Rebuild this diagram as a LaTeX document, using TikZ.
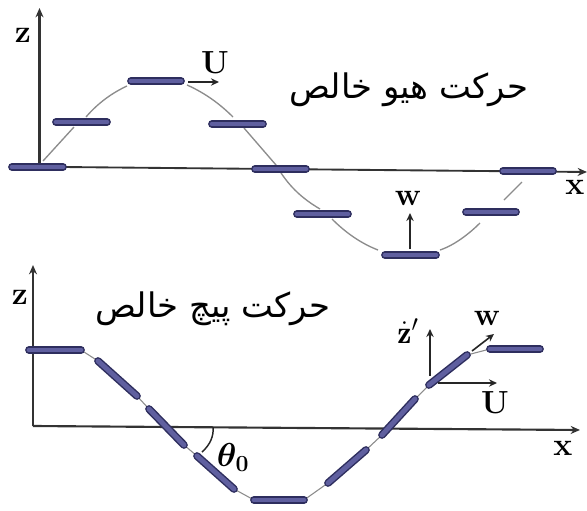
\documentclass[tikz,border=0pt]{standalone}
\usepackage{amsmath}
\usepackage{fontspec}
\newfontfamily\arabicfont[Script=Arabic]{DejaVu Sans}
\TeXXeTstate=1
\definecolor{plateedge}{HTML}{2E2E5E}
\definecolor{platefill}{HTML}{5F5F9F}
\definecolor{wavegray}{HTML}{8C8C8C}
\definecolor{axisgray}{HTML}{333333}
\usetikzlibrary{arrows.meta}
\tikzset{
  plate/.style={draw=plateedge,line width=1.1pt,double=platefill,double distance=3.6pt,line cap=round},
  wave/.style={draw=wavegray,line width=1pt},
  axisline/.style={draw=axisgray,line width=1.6pt,-{Stealth[length=7pt,width=6pt]}},
  vec/.style={draw=black!85,line width=1.2pt,-{Stealth[length=6pt,width=5.5pt]}},
  lab/.style={inner sep=0pt,font=\bfseries\fontsize{24}{24}\selectfont},
  title/.style={inner sep=0pt,font=\arabicfont\fontsize{25.4}{28}\selectfont}
}
\begin{document}
\begin{tikzpicture}[x=0.75pt,y=-0.75pt]
\useasboundingbox[fill=white] (0,0) rectangle (587,511);
% top wave
\coordinate (aL) at (12,167); \coordinate (aR) at (63,167);
\coordinate (bL) at (56,122); \coordinate (bR) at (107,122);
\coordinate (cL) at (131,81); \coordinate (cR) at (181,81);
\coordinate (dL) at (212,124); \coordinate (dR) at (263,124);
\coordinate (eL) at (255,169); \coordinate (eR) at (306,169);
\coordinate (fL) at (297,214); \coordinate (fR) at (348,214);
\coordinate (gL) at (385,255); \coordinate (gR) at (436,255);
\coordinate (hL) at (466,212); \coordinate (hR) at (516,212);
\coordinate (iL) at (503,171); \coordinate (iR) at (553,171);
\draw[wave] (43,161) -- (74,127);
\draw[wave] (86,117) .. controls (98,103) and (112,93) .. (127,86);
\draw[wave] (187,85) .. controls (205,93) and (220,104) .. (233,117);
\draw[wave] (244,128) -- (276,165);
\draw[wave] (276,165) .. controls (285,180) and (296,195) .. (320,209);
\draw[wave] (332,219) .. controls (345,232) and (360,243) .. (378,250);
\draw[wave] (440,250) .. controls (455,245) and (470,233) .. (480,223);
\draw[wave] (504,200) -- (522,182);
\coordinate (ztopA) at (39.5,8); \coordinate (zbotA) at (39.5,163);
\coordinate (xtipA) at (587,172);
\draw[axisline] (zbotA) -- (ztopA);
\draw[axisline,line width=1.4pt] (aR) -- (xtipA);
\foreach \a in {a,b,c,d,e,f,g,h,i} \draw[plate] (\a L) -- (\a R);
\coordinate (uA1) at (188,82); \coordinate (uA2) at (219,82);
\draw[vec] (uA1) -- (uA2);
\coordinate (wA1) at (410,249); \coordinate (wA2) at (410,213);
\draw[vec,line width=1.6pt] (wA1) -- (wA2);
\node[lab] (zA) at (23,35) {z};
\node[lab] (UA) at (215,63) {U};
\node[lab] (xA) at (575,187) {x};
\node[lab] (wA) at (408,198) {w};
\node[title] (titleA) at (409,90) {\beginR حرکت هیو خالص\endR};
% bottom wave
\coordinate (jL) at (29,350); \coordinate (jR) at (81,350);
\coordinate (kL) at (98,361); \coordinate (kR) at (137,396);
\coordinate (lL) at (149,409); \coordinate (lR) at (184,445);
\coordinate (mL) at (197,456); \coordinate (mR) at (234,489);
\coordinate (nL) at (254,500); \coordinate (nR) at (304,500);
\coordinate (oL) at (328,483); \coordinate (oR) at (366,450);
\coordinate (pL) at (382,435); \coordinate (pR) at (415,399);
\coordinate (qL) at (429,385); \coordinate (qR) at (467,355);
\coordinate (rL) at (490,349); \coordinate (rR) at (540,349);
\foreach \a/\b in {jR/kL,kR/lL,lR/mL,mR/nL,nR/oL,oR/pL,pR/qL,qR/rL}
  \draw[wave,line width=0.8pt] (\a) -- (\b);
\coordinate (zO) at (33,426); \coordinate (ztopB) at (33,265);
\coordinate (xtipB) at (580,430);
\draw[axisline] (zO) -- (ztopB);
\draw[axisline] (zO) -- (xtipB);
\foreach \a in {j,k,l,m,n,o,p,q,r} \draw[plate] (\a L) -- (\a R);
\coordinate (t1) at (213,427); \coordinate (t2) at (202,452);
\draw[draw=black!85,line width=1.1pt] (t1) .. controls (214,436) and (210,445) .. (t2);
\node[lab,font=\fontsize{24}{24}\selectfont] (thetaB) at (233,457) {$\boldsymbol{\theta_0}$};
\coordinate (zp1) at (430,376); \coordinate (zp2) at (430,329);
\draw[vec] (zp1) -- (zp2);
\coordinate (ub1) at (438,383); \coordinate (ub2) at (497,383);
\draw[vec] (ub1) -- (ub2);
\coordinate (wb1) at (472,351); \coordinate (wb2) at (494,334);
\draw[vec] (wb1) -- (wb2);
\node[lab] (zB) at (20,297) {z};
\node[lab] (xB) at (563,448) {x};
\node[lab] (UB) at (495,403) {U};
\node[lab] (wB) at (487,318) {w};
\node[lab] (zpB) at (408,331) {$\dot{\mathbf{z}}'$};
\node[title] (titleB) at (213,309) {\beginR حرکت پیچ خالص\endR};
\end{tikzpicture}
\end{document}
